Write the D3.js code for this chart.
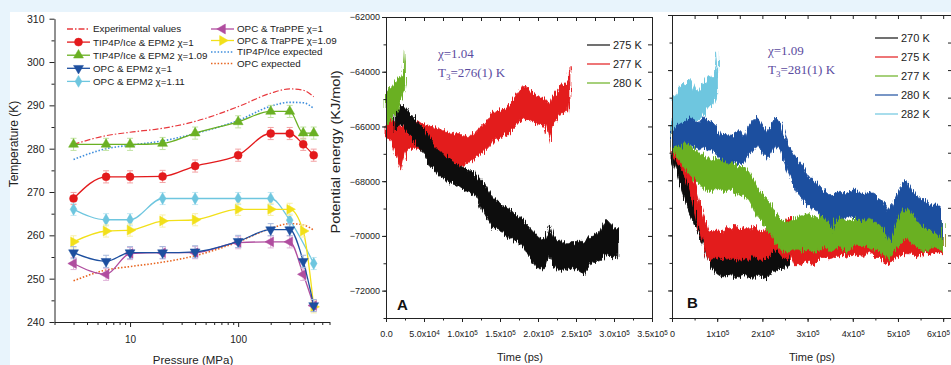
<!DOCTYPE html>
<html><head><meta charset="utf-8">
<script src="https://cdn.jsdelivr.net/npm/d3@7"></script>
<style>
body{margin:0;background:#e8f4fc;}
svg{display:block;font-family:"Liberation Sans",Arial,sans-serif;}
</style></head><body>
<svg id="fig" width="951" height="365"></svg>
<script>
// ---- left panel data: melting temperature vs pressure ----
const pressure = [3, 6, 10, 20, 40, 100, 200, 300, 400, 500];
const tip4pChi1 = [268.5, 273.5, 273.5, 273.6, 276, 278.5, 283.5, 283.5, 281, 278.5];
const tip4pChi109 = [281, 281, 281, 281.2, 283.6, 286.2, 288.6, 288.6, 283.6, 283.6];
const opcEpm2Chi1 = [256, 254, 256, 256, 256.2, 258.6, 261.3, 261.3, 254, 243.8];
const opcEpm2Chi111 = [266, 263.6, 263.6, 268.5, 268.5, 268.5, 268.5, 263.5, null, 253.5];
const opcTrappeChi1 = [253.5, 251, 255.8, 256, 256, 258.3, 258.5, 258.5, 251, 243.8];
const opcTrappeChi109 = [258.5, 261, 261.2, 263.3, 263.6, 266, 266, 266, 261, 243.5];
const experimental = [281, 283, 283.8, 284.7, 286.3, 289.7, 292.8, 293.8, 293.5, 292];
const tip4pExpected = [277.5, 280, 280.8, 281.8, 283.5, 286.5, 289.8, 290.7, 290.6, 289.3];
const opcExpected = [249.5, 252, 252.8, 253.8, 255.3, 258.5, 261.6, 262.7, 262.4, 261.2];
const tempError = 1.4;
const tempTicks = [240, 250, 260, 270, 280, 290, 300, 310];
const pressTicks = [10, 100];

// ---- panel A: potential energy traces, chi = 1.04  [time, upper, lower] ----
const a277 = [[0,-65600,-66400],[5e3,-65700,-66500],[1e4,-65800,-66800],[1.5e4,-65900,-67200],[2e4,-66000,-67600],
  [2.5e4,-65700,-67000],[3e4,-65800,-66800],[4e4,-65800,-66800],[5e4,-65900,-66900],[6e4,-66000,-67000],
  [7e4,-66100,-67200],[8e4,-66200,-67200],[9e4,-66300,-67300],[1e5,-66300,-67500],[1.1e5,-66400,-67300],
  [1.2e5,-66100,-67100],[1.3e5,-65900,-66900],[1.4e5,-65500,-66600],[1.5e5,-65400,-66400],[1.6e5,-65300,-66300],
  [1.7e5,-64900,-66000],[1.8e5,-64500,-65700],[1.9e5,-64700,-65800],[2e5,-64900,-65900],[2.1e5,-65000,-66000],
  [2.15e5,-65200,-66600],[2.2e5,-64900,-65900],[2.3e5,-64500,-65500],[2.4e5,-64400,-65500],[2.42e5,-63800,-65000]];
const a275 = [[1.2e4,-65400,-66200],[1.5e4,-65300,-66000],[2e4,-65200,-65900],[2.5e4,-65300,-66100],[3e4,-65500,-66300],
  [3.5e4,-65600,-66500],[4e4,-65800,-66700],[5e4,-66100,-67000],[6e4,-66600,-67500],[7e4,-66900,-67800],
  [8e4,-67100,-68000],[9e4,-67300,-68100],[1e5,-67500,-68300],[1.1e5,-67600,-68400],[1.2e5,-67800,-68600],
  [1.3e5,-68100,-69200],[1.4e5,-68600,-69700],[1.5e5,-68800,-69800],[1.6e5,-69000,-70000],[1.7e5,-69200,-70200],
  [1.8e5,-69400,-70400],[1.9e5,-69700,-70800],[2e5,-70000,-71200],[2.1e5,-70100,-71200],[2.15e5,-69600,-70700],
  [2.2e5,-70000,-71100],[2.3e5,-70200,-71300],[2.4e5,-70300,-71200],[2.5e5,-70200,-71200],[2.6e5,-70200,-71400],
  [2.7e5,-70000,-71000],[2.8e5,-69900,-70900],[2.9e5,-69400,-70700],[3e5,-69700,-70800],[3.05e5,-69700,-70800]];
const a280 = [[0,-64800,-66000],[5e3,-64600,-65800],[1e4,-64500,-65600],[1.5e4,-64300,-65300],[2e4,-64200,-65000],
  [2.4e4,-63900,-64700],[2.55e4,-63200,-64400]];

// ---- panel B: potential energy traces, chi = 1.09 ----
const b270 = [[0,-66600,-67200],[1e4,-67000,-67700],[2e4,-67500,-68300],[3e4,-67900,-68800],[4e4,-68300,-69200],
  [5e4,-68700,-69600],[6e4,-69100,-70000],[7e4,-69500,-70400],[8e4,-70000,-70900],[9e4,-70400,-71200],
  [1e5,-70600,-71400],[1.1e5,-70600,-71500],[1.2e5,-70700,-71500],[1.3e5,-70600,-71400],[1.4e5,-70700,-71600],
  [1.5e5,-70600,-71500],[1.6e5,-70700,-71400],[1.7e5,-70600,-71500],[1.8e5,-70700,-71600],[1.9e5,-70500,-71400],
  [2e5,-70600,-71500],[2.1e5,-70400,-71600],[2.2e5,-70300,-71300],[2.3e5,-70400,-71300],[2.4e5,-70300,-71200],
  [2.5e5,-70200,-71200],[2.6e5,-70300,-71100]];
const b275 = [[0,-66500,-67000],[1e4,-66600,-67300],[2e4,-66800,-67600],[3e4,-67100,-67900],[4e4,-67500,-68400],
  [5e4,-68100,-69000],[6e4,-68700,-69700],[7e4,-69300,-70300],[8e4,-69800,-70900],[9e4,-69900,-70900],
  [1e5,-69800,-70800],[1.1e5,-69900,-70900],[1.2e5,-69700,-70800],[1.3e5,-69800,-70900],[1.4e5,-69600,-70800],
  [1.5e5,-69800,-70900],[1.6e5,-69700,-70800],[1.7e5,-69800,-70900],[1.8e5,-69600,-70700],[1.9e5,-69800,-70900],
  [2e5,-69900,-70900],[2.1e5,-69700,-70800],[2.2e5,-69500,-70600],[2.3e5,-69300,-70500],[2.4e5,-69400,-70700],
  [2.5e5,-69600,-70900],[2.6e5,-69300,-70700],[2.7e5,-69700,-71100],[2.8e5,-70000,-71100],[2.9e5,-70100,-71000],
  [3e5,-70000,-70900],[3.1e5,-70100,-71100],[3.2e5,-69900,-70900],[3.3e5,-70000,-70800],[3.4e5,-69900,-70800],
  [3.5e5,-70000,-70900],[3.6e5,-69900,-70800],[3.7e5,-69800,-70700],[3.8e5,-69700,-70700],[3.9e5,-69800,-70800],
  [4e5,-69700,-70700],[4.1e5,-69800,-70700],[4.2e5,-69700,-70800],[4.3e5,-69600,-70700],[4.4e5,-69200,-70600],
  [4.5e5,-69500,-70800],[4.6e5,-69400,-70800],[4.7e5,-69600,-71000],[4.8e5,-69800,-71100],[4.9e5,-70000,-70900],
  [5e5,-69900,-70800],[5.1e5,-70000,-70700],[5.2e5,-69900,-70700],[5.3e5,-69800,-70600],[5.4e5,-70000,-70800],
  [5.5e5,-69900,-70700],[5.6e5,-69800,-70600],[5.7e5,-69900,-70700],[5.8e5,-69800,-70600],[5.9e5,-69700,-70600],
  [6e5,-69800,-70700]];
const b277 = [[0,-66100,-66900],[1e4,-66200,-67100],[2e4,-66400,-67400],[3e4,-66600,-67600],[4e4,-66700,-67800],
  [5e4,-66900,-68000],[6e4,-67000,-68100],[7e4,-67100,-68300],[8e4,-67200,-68400],[9e4,-67300,-68400],
  [1e5,-67200,-68300],[1.1e5,-67300,-68400],[1.2e5,-67300,-68400],[1.3e5,-67200,-68300],[1.4e5,-67400,-68500],
  [1.5e5,-67500,-68500],[1.6e5,-67500,-68600],[1.7e5,-67700,-68700],[1.8e5,-68000,-69000],[1.9e5,-68300,-69300],
  [2e5,-68500,-69500],[2.1e5,-68700,-69800],[2.2e5,-68900,-70000],[2.3e5,-69200,-70300],[2.4e5,-69400,-70500],
  [2.5e5,-69500,-70600],[2.6e5,-69500,-70600],[2.7e5,-69400,-70500],[2.8e5,-69300,-70500],[2.9e5,-69300,-70600],
  [3e5,-69200,-70500],[3.1e5,-69300,-70600],[3.2e5,-69400,-70600],[3.3e5,-69300,-70500],[3.4e5,-69200,-70400],
  [3.5e5,-69400,-70600],[3.6e5,-69300,-70500],[3.7e5,-69200,-70400],[3.8e5,-69400,-70500],[3.9e5,-69500,-70600],
  [4e5,-69400,-70400],[4.1e5,-69300,-70300],[4.2e5,-69400,-70400],[4.3e5,-69300,-70400],[4.4e5,-69400,-70500],
  [4.5e5,-69500,-70500],[4.6e5,-69600,-70600],[4.7e5,-69600,-70700],[4.8e5,-69800,-70900],[4.9e5,-69600,-70600],
  [5e5,-69300,-70400],[5.1e5,-69100,-70200],[5.2e5,-69000,-70100],[5.3e5,-69200,-70300],[5.4e5,-69400,-70400],
  [5.5e5,-69500,-70500],[5.6e5,-69600,-70600],[5.7e5,-69500,-70500],[5.8e5,-69400,-70400],[5.9e5,-69500,-70500],
  [6e5,-69600,-70600]];
const b280 = [[0,-65800,-66800],[1e4,-65700,-66700],[2e4,-65800,-66800],[3e4,-65600,-66600],[4e4,-65500,-66700],
  [5e4,-65800,-66800],[6e4,-65900,-66900],[7e4,-65700,-66800],[8e4,-65800,-66900],[9e4,-65900,-66900],
  [1e5,-66100,-67100],[1.1e5,-66400,-67300],[1.2e5,-66300,-67300],[1.3e5,-66400,-67400],[1.4e5,-66300,-67300],
  [1.5e5,-66200,-67400],[1.6e5,-66400,-67400],[1.7e5,-66000,-67100],[1.8e5,-65800,-66900],[1.9e5,-65700,-66700],
  [2e5,-66000,-67000],[2.1e5,-66200,-67200],[2.2e5,-66000,-67000],[2.3e5,-65700,-66700],[2.4e5,-65900,-66900],
  [2.5e5,-66400,-67400],[2.6e5,-66800,-67800],[2.7e5,-67100,-68200],[2.8e5,-67300,-68500],[2.9e5,-67500,-68700],
  [3e5,-67800,-68900],[3.1e5,-68000,-69000],[3.2e5,-68100,-69100],[3.3e5,-68300,-69300],[3.4e5,-68400,-69400],
  [3.5e5,-68500,-69600],[3.55e5,-68600,-69900],[3.6e5,-68500,-69500],[3.7e5,-68400,-69300],[3.8e5,-68500,-69400],
  [3.9e5,-68400,-69300],[4e5,-68300,-69300],[4.1e5,-68400,-69400],[4.2e5,-68500,-69500],[4.3e5,-68500,-69400],
  [4.4e5,-68400,-69400],[4.5e5,-68600,-69500],[4.6e5,-68700,-69600],[4.7e5,-68800,-69800],[4.8e5,-69100,-70200],
  [4.9e5,-68800,-69800],[5e5,-68400,-69400],[5.1e5,-68100,-69100],[5.2e5,-68000,-69000],[5.3e5,-68300,-69200],
  [5.4e5,-68500,-69400],[5.5e5,-68700,-69600],[5.6e5,-68700,-69700],[5.7e5,-68900,-69800],[5.8e5,-68900,-69900],
  [5.9e5,-68900,-70000],[5.96e5,-69000,-70100]];
const b282 = [[0,-65000,-66200],[1e4,-64900,-66000],[2e4,-64600,-65900],[3e4,-64500,-65800],[4e4,-64300,-65700],
  [5e4,-64700,-65800],[6e4,-64800,-65800],[7e4,-64500,-65600],[8e4,-64200,-65300],[9e4,-64300,-65300],
  [9.8e4,-63900,-65000],[1.01e5,-63300,-64800]];

const energyTicks = [-62000, -64000, -66000, -68000, -70000, -72000];
const aTimeTicks = [0, 5e4, 1e5, 1.5e5, 2e5, 2.5e5, 3e5, 3.5e5];
const aTimeLabels = [["0.0",""],["5.0x10","4"],["1.0x10","5"],["1.5x10","5"],["2.0x10","5"],["2.5x10","5"],["3.0x10","5"],["3.5x10","5"]];
const bTimeTicks = [0, 1e5, 2e5, 3e5, 4e5, 5e5, 6e5];
const bTimeLabels = [["0",""],["1x10","5"],["2x10","5"],["3x10","5"],["4x10","5"],["5x10","5"],["6x10","5"]];

const C = {red:"#e31a1c", green:"#6ab023", blue:"#1d4f9f", cyan:"#6ec6df", yellow:"#f2e01a", purple:"#b04d9f", black:"#111"};
const FONT = "Liberation Sans, Arial, sans-serif";

const svg = d3.select("#fig");
svg.append("rect").attr("x", 10).attr("y", 12).attr("width", 941).attr("height", 353).attr("fill", "#fff");

// fuzzy look for the MD traces
const flt = svg.append("defs").append("filter").attr("id", "fuzz")
  .attr("x", "-3%").attr("y", "-15%").attr("width", "106%").attr("height", "130%");
flt.append("feTurbulence").attr("type", "fractalNoise").attr("baseFrequency", "0.9 0.04")
  .attr("numOctaves", 2).attr("seed", 4).attr("result", "n");
flt.append("feDisplacementMap").attr("in", "SourceGraphic").attr("in2", "n").attr("scale", 9)
  .attr("xChannelSelector", "B").attr("yChannelSelector", "R");

// ================= left panel =================
const x = d3.scaleLog().domain([2, 700]).range([54.5, 329.5]);
const y = d3.scaleLinear().domain([240, 310]).range([322, 18.7]);
const gl = svg.append("g");

function styleAxis(g, size) {
  g.attr("font-family", FONT).attr("font-size", size);
  g.selectAll("line, path").attr("stroke", "#222");
  g.selectAll("text").attr("fill", "#222");
}

gl.append("g").attr("transform", "translate(0,322)")
  .call(d3.axisBottom(x).tickValues(pressTicks).tickFormat(d3.format("d")).tickSize(5).tickSizeOuter(0).tickPadding(9))
  .call(g => styleAxis(g, 10));
const minorP = [];
[1, 10, 100].forEach(dec => d3.range(2, 10).forEach(k => { const v = k * dec; if (v >= 2 && v <= 700 && v !== 10 && v !== 100) minorP.push(v); }));
gl.append("g").attr("transform", "translate(0,322)")
  .call(d3.axisBottom(x).tickValues(minorP).tickFormat("").tickSize(3).tickSizeOuter(0))
  .call(g => g.select(".domain").remove()).call(g => styleAxis(g, 10));
gl.append("g").attr("transform", "translate(54.5,0)")
  .call(d3.axisLeft(y).tickValues(tempTicks).tickSize(5).tickSizeOuter(0).tickPadding(5))
  .call(g => styleAxis(g, 10.5));
gl.append("g").attr("transform", "translate(54.5,0)")
  .call(d3.axisLeft(y).tickValues(d3.range(245, 310, 10)).tickFormat("").tickSize(3))
  .call(g => g.select(".domain").remove()).call(g => styleAxis(g, 10));

gl.append("text").attr("transform", "translate(18,144) rotate(-90)").attr("text-anchor", "middle")
  .attr("font-size", 12).attr("fill", "#222").text("Temperature (K)");
gl.append("text").attr("x", 193).attr("y", 364).attr("text-anchor", "middle")
  .attr("font-size", 11.5).attr("fill", "#222").text("Pressure (MPa)");

// expected curves
const expLine = d3.line().x((d, i) => x(pressure[i])).y(d => y(d)).curve(d3.curveMonotoneX);
gl.append("path").datum(experimental).attr("d", expLine).attr("fill", "none")
  .attr("stroke", "#e8383d").attr("stroke-width", 1.2).attr("stroke-dasharray", "6,2,1.5,2");
gl.append("path").datum(tip4pExpected).attr("d", expLine).attr("fill", "none")
  .attr("stroke", "#3d8ddc").attr("stroke-width", 1.6).attr("stroke-dasharray", "1.5,1.8");
gl.append("path").datum(opcExpected).attr("d", expLine).attr("fill", "none")
  .attr("stroke", "#e8641e").attr("stroke-width", 1.6).attr("stroke-dasharray", "1.5,1.8");

function markerPath(type, size) {
  if (type === "circle") return d3.symbol().type(d3.symbolCircle).size(size)();
  if (type === "diamond") return d3.symbol().type(d3.symbolDiamond).size(size * 0.8)();
  return d3.symbol().type(d3.symbolTriangle).size(size * 0.85)();
}
const rot = {up: 0, down: 180, left: -90, right: 90, circle: 0, diamond: 0};
function drawMarker(g, type, cx, cy, color) {
  g.append("path").attr("d", markerPath(type === "circle" || type === "diamond" ? type : "tri", 50))
    .attr("transform", `translate(${cx},${cy}) rotate(${rot[type]})`)
    .attr("fill", color).attr("stroke", color).attr("stroke-width", 0.5);
}

const seriesL = [
  {vals: tip4pChi1, color: C.red, err: "#f3a3a4", type: "circle"},
  {vals: tip4pChi109, color: C.green, err: "#c2e3a3", type: "up"},
  {vals: opcEpm2Chi111, color: C.cyan, err: "#c3e8f3", type: "diamond"},
  {vals: opcTrappeChi109, color: C.yellow, err: "#f8f0a8", type: "right"},
  {vals: opcTrappeChi1, color: C.purple, err: "#e0b3d9", type: "left"},
  {vals: opcEpm2Chi1, color: C.blue, err: "#a7b9dc", type: "down"}
];
seriesL.forEach(s => {
  const pts = pressure.map((p, i) => [p, s.vals[i]]).filter(d => d[1] != null);
  gl.append("path").datum(pts).attr("fill", "none").attr("stroke", s.color).attr("stroke-width", 1.3)
    .attr("d", d3.line().x(d => x(d[0])).y(d => y(d[1])).curve(d3.curveMonotoneX));
  pts.forEach(d => {
    const cx = x(d[0]), y0 = y(d[1] - tempError), y1 = y(d[1] + tempError);
    gl.append("path").attr("d", `M${cx},${y0}V${y1}M${cx - 3},${y0}H${cx + 3}M${cx - 3},${y1}H${cx + 3}`)
      .attr("stroke", s.err).attr("stroke-width", 1).attr("fill", "none");
  });
  pts.forEach(d => drawMarker(gl, s.type, x(d[0]), y(d[1]), s.color));
});

// legend
const leg1 = [
  {name: "Experimental values", color: "#e8383d", dash: "6,2,1.5,2"},
  {name: "TIP4P/Ice & EPM2 χ=1", color: C.red, type: "circle"},
  {name: "TIP4P/Ice & EPM2 χ=1.09", color: C.green, type: "up"},
  {name: "OPC & EPM2 χ=1", color: C.blue, type: "down"},
  {name: "OPC & EPM2 χ=1.11", color: C.cyan, type: "diamond"}
];
const leg2 = [
  {name: "OPC & TraPPE χ=1", color: C.purple, type: "left"},
  {name: "OPC & TraPPE χ=1.09", color: C.yellow, type: "right"},
  {name: "TIP4P/Ice expected", color: "#3d8ddc", dash: "1.5,1.8", w: 1.6},
  {name: "OPC expected", color: "#e8641e", dash: "1.5,1.8", w: 1.6}
];
function drawLegend(items, x0, y0, dy) {
  items.forEach((it, i) => {
    const yy = y0 + i * dy;
    gl.append("line").attr("x1", x0).attr("x2", x0 + 23).attr("y1", yy).attr("y2", yy)
      .attr("stroke", it.color).attr("stroke-width", it.w || 1.3).attr("stroke-dasharray", it.dash || null);
    if (it.type) drawMarker(gl, it.type, x0 + 11.5, yy, it.color);
    gl.append("text").attr("x", x0 + 26).attr("y", yy).attr("dy", "0.35em").attr("font-size", 9.8)
      .attr("fill", "#222").text(it.name);
  });
}
drawLegend(leg1, 67, 29, 13.1);
drawLegend(leg2, 211, 29, 11.5);

// ================= right panels =================
function superLabels(g, labels, maxX) {
  g.selectAll(".tick text").each(function(d, i) {
    const t = d3.select(this).text(null);
    t.append("tspan").text(labels[i][0]);
    if (labels[i][1]) t.append("tspan").attr("dy", "-0.45em").attr("font-size", "0.7em").text(labels[i][1]);
  });
  // keep the last label inside the picture
  g.selectAll(".tick").each(function() {
    const tick = d3.select(this), text = tick.select("text");
    const tx = +tick.attr("transform").match(/translate\(([-\d.]+)/)[1];
    const w = text.node().getComputedTextLength();
    if (tx + w / 2 > maxX) text.attr("text-anchor", "end").attr("x", maxX - tx);
  });
}

function panel(cfg) {
  const xs = d3.scaleLinear().domain(cfg.xDomain).range(cfg.xRange);
  const ys = d3.scaleLinear().domain([-73000, -62000]).range([318, cfg.top]);
  const g = svg.append("g");
  const area = d3.area().x(d => xs(d[0])).y0(d => ys(d[2])).y1(d => ys(d[1]));
  const traces = g.append("g").attr("filter", "url(#fuzz)");
  cfg.series.forEach(s => {
    traces.append("path").datum(s.data).attr("d", area).attr("fill", s.color)
      .attr("stroke", s.color).attr("stroke-width", 0.8);
  });
  const [xl] = cfg.xRange;
  const minorT = d3.range(cfg.xDomain[0], cfg.xDomain[1] + 1, cfg.minorStep);
  const minorE = d3.range(-73000, -61999, 1000);
  // bottom
  g.append("g").attr("transform", "translate(0,318)")
    .call(d3.axisBottom(xs).tickValues(cfg.ticks).tickSize(4).tickSizeOuter(0).tickPadding(9))
    .call(gg => styleAxis(gg, 9)).call(gg => superLabels(gg, cfg.labels, 950));
  g.append("g").attr("transform", "translate(0,318)")
    .call(d3.axisBottom(xs).tickValues(minorT).tickFormat("").tickSize(2.5).tickSizeOuter(0))
    .call(gg => gg.select(".domain").remove()).call(gg => styleAxis(gg, 9));
  // top (inward ticks)
  g.append("g").attr("transform", `translate(0,${cfg.top})`)
    .call(d3.axisBottom(xs).tickValues(minorT).tickFormat("").tickSize(4).tickSizeOuter(0))
    .call(gg => styleAxis(gg, 9));
  // left
  g.append("g").attr("transform", `translate(${xl},0)`)
    .call(d3.axisLeft(ys).tickValues(energyTicks).tickSize(4).tickSizeOuter(0).tickPadding(2)
      .tickFormat(cfg.yLabels ? d3.format("d") : ""))
    .call(gg => styleAxis(gg, 9));
  g.append("g").attr("transform", `translate(${xl},0)`)
    .call(d3.axisLeft(ys).tickValues(minorE).tickFormat("").tickSize(2.5))
    .call(gg => gg.select(".domain").remove()).call(gg => styleAxis(gg, 9));
  // right (inward ticks)
  g.append("g").attr("transform", `translate(${cfg.rightX},0)`)
    .call(d3.axisLeft(ys).tickValues(minorE).tickFormat("").tickSize(4).tickSizeOuter(0))
    .call(gg => styleAxis(gg, 9));

  g.append("text").attr("x", cfg.titleX).attr("y", 361).attr("text-anchor", "middle")
    .attr("font-size", 11).attr("fill", "#222").text("Time (ps)");
  g.append("text").attr("x", cfg.letter[0]).attr("y", cfg.letter[1]).attr("font-size", 15)
    .attr("font-weight", "bold").attr("fill", "#111").text(cfg.letterText);

  const ann = g.append("g").attr("font-family", "Liberation Serif, Times New Roman, serif")
    .attr("font-size", 13).attr("fill", "#5a4ba0");
  ann.append("text").attr("x", cfg.ann[0]).attr("y", cfg.ann[1]).text(cfg.chi);
  const t3 = ann.append("text").attr("x", cfg.ann[0]).attr("y", cfg.ann[1] + 19);
  t3.append("tspan").text("T");
  t3.append("tspan").attr("font-size", 9).attr("dy", 3).text("3");
  t3.append("tspan").attr("dy", -3).text(cfg.t3);

  cfg.legend.forEach((it, i) => {
    const yy = cfg.legPos[1] + i * 19;
    g.append("line").attr("x1", cfg.legPos[0]).attr("x2", cfg.legPos[0] + 23).attr("y1", yy).attr("y2", yy)
      .attr("stroke", it.color).attr("stroke-width", 1.2);
    g.append("text").attr("x", cfg.legPos[0] + 26).attr("y", yy).attr("dy", "0.36em")
      .attr("font-size", 11).attr("fill", "#222").text(it.name);
  });
}

panel({
  xDomain: [0, 3.5e5], xRange: [386, 652], rightX: 652, top: 17, minorStep: 2.5e4,
  ticks: aTimeTicks, labels: aTimeLabels, yLabels: true,
  series: [{data: a277, color: C.red}, {data: a275, color: C.black}, {data: a280, color: C.green}],
  titleX: 520, letter: [397, 310], letterText: "A", ann: [438, 58], chi: "χ=1.04", t3: "=276(1) K",
  legPos: [587, 45], legend: [{name: "275 K", color: C.black}, {name: "277 K", color: C.red}, {name: "280 K", color: C.green}]
});
panel({
  xDomain: [0, 6.2e5], xRange: [672, 952.2], rightX: 952, top: 15, minorStep: 5e4,
  ticks: bTimeTicks, labels: bTimeLabels, yLabels: false,
  series: [{data: b270, color: C.black}, {data: b275, color: C.red}, {data: b277, color: C.green},
           {data: b280, color: C.blue}, {data: b282, color: C.cyan}],
  titleX: 812, letter: [687, 308], letterText: "B", ann: [768, 55], chi: "χ=1.09", t3: "=281(1) K",
  legPos: [875, 38], legend: [{name: "270 K", color: C.black}, {name: "275 K", color: C.red}, {name: "277 K", color: C.green},
    {name: "280 K", color: C.blue}, {name: "282 K", color: C.cyan}]
});

svg.append("text").attr("transform", "translate(340,152) rotate(-90)").attr("text-anchor", "middle")
  .attr("font-size", 13).attr("fill", "#222").attr("textLength", 163).attr("lengthAdjust", "spacingAndGlyphs")
  .text("Potential energy (KJ/mol)");
</script>
</body></html>
